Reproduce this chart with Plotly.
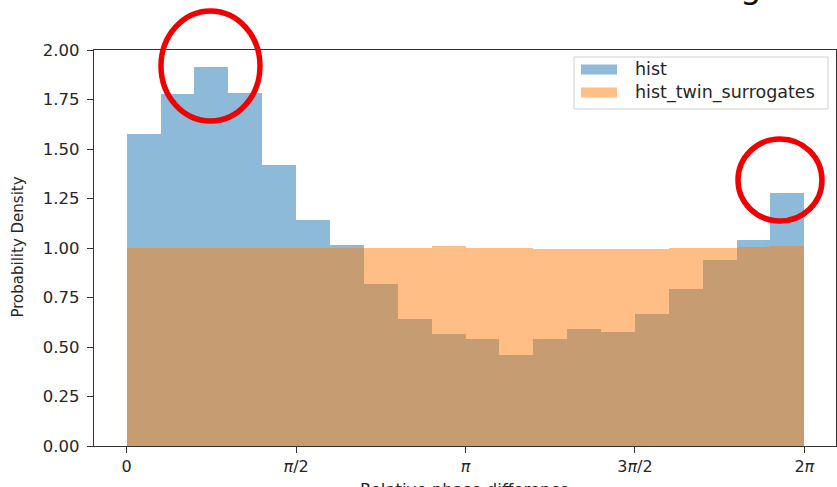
import numpy as np
import plotly.graph_objects as go

# ---- data ----
n_bins = 20
hist = [1.574, 1.777, 1.913, 1.782, 1.419, 1.141, 1.015, 0.816, 0.639, 0.565,
        0.538, 0.459, 0.538, 0.590, 0.576, 0.667, 0.791, 0.939, 1.040, 1.279]
hist_twin_surrogates = [1.000, 1.000, 1.000, 1.000, 1.000, 1.000, 0.999, 0.998, 0.998, 1.008,
                        0.999, 0.998, 0.997, 0.997, 0.997, 0.997, 0.998, 0.999, 1.005, 1.008]
x_tick_vals = [0, np.pi / 2, np.pi, 3 * np.pi / 2, 2 * np.pi]
x_tick_text = ["0", "<i>π</i>/2", "<i>π</i>", "3<i>π</i>/2", "2<i>π</i>"]
y_tick_vals = [0, 0.25, 0.5, 0.75, 1.0, 1.25, 1.5, 1.75, 2.0]
series_names = ["hist", "hist_twin_surrogates"]

# ---- layout geometry (pixels) ----
W, H = 837, 487
L, R, T, B = 94, 836, 50, 446


def px(x):
    return (x - L) / (R - L)


def py(y):
    return (B - y) / (B - T)


edges = np.linspace(0, 2 * np.pi, n_bins + 1)
centers = (edges[:-1] + edges[1:]) / 2
bw = edges[1] - edges[0]

C0 = "#1f77b4"
C1 = "#ff7f0e"
FONT = "DejaVu Sans"
TXT = "#262626"

fig = go.Figure()
fig.add_trace(go.Bar(x=centers, y=hist, width=bw, name=series_names[0],
                     marker=dict(color=C0, line=dict(width=0)), opacity=0.5))
fig.add_trace(go.Bar(x=centers, y=hist_twin_surrogates, width=bw, name=series_names[1],
                     marker=dict(color=C1, line=dict(width=0)), opacity=0.5))

pxr = (804.3 - 126.7) / (2 * np.pi)
xmin = -(126.7 - L) / pxr
xmax = (R - 126.7) / pxr

fig.update_layout(
    width=W, height=H,
    margin=dict(l=L, r=W - R, t=T, b=H - B, pad=0),
    paper_bgcolor="white", plot_bgcolor="white",
    barmode="overlay", bargap=0,
    showlegend=False,
    font=dict(family=FONT, size=16, color=TXT),
)
fig.update_xaxes(range=[xmin, xmax], tickvals=x_tick_vals, ticktext=x_tick_text,
                 showgrid=False, zeroline=False, showline=True, mirror=True,
                 linecolor="#333333", linewidth=1.2, ticks="outside", ticklen=6,
                 tickcolor="#333333", tickfont=dict(size=16, color=TXT))
fig.update_yaxes(range=[0, 2.0], tickvals=y_tick_vals, tickformat=".2f",
                 showgrid=False, zeroline=False, showline=True, mirror=True,
                 linecolor="#333333", linewidth=1.2, ticks="outside", ticklen=6,
                 tickcolor="#333333", tickfont=dict(size=16.5, color=TXT),
                 ticklabelstandoff=4)

# axis titles (as annotations to control placement)
fig.add_annotation(text="Probability Density", xref="paper", yref="paper",
                   x=px(17.5), y=py(247), textangle=-90, showarrow=False,
                   xanchor="center", yanchor="middle", font=dict(size=15, color=TXT))
fig.add_annotation(text="Relative phase difference", xref="paper", yref="paper",
                   x=px(465), y=py(477.5), showarrow=False,
                   xanchor="center", yanchor="top", font=dict(size=16.5, color=TXT))

# legend (drawn by hand to mimic the matplotlib look)
fig.add_shape(type="rect", xref="paper", yref="paper",
              x0=px(574), x1=px(828), y0=py(57), y1=py(109),
              line=dict(color="#d0d0d0", width=1), fillcolor="rgba(255,255,255,0.8)")
fig.add_shape(type="rect", xref="paper", yref="paper",
              x0=px(581), x1=px(617), y0=py(64.5), y1=py(74.5),
              line=dict(width=0), fillcolor=C0, opacity=0.5)
fig.add_shape(type="rect", xref="paper", yref="paper",
              x0=px(581), x1=px(617), y0=py(87.5), y1=py(97.5),
              line=dict(width=0), fillcolor=C1, opacity=0.5)
fig.add_annotation(text=series_names[0], xref="paper", yref="paper",
                   x=px(633), y=py(69.5), showarrow=False, xanchor="left",
                   yanchor="middle", font=dict(size=17.5, color=TXT))
fig.add_annotation(text=series_names[1], xref="paper", yref="paper",
                   x=px(633), y=py(92.5), showarrow=False, xanchor="left",
                   yanchor="middle", font=dict(size=17.5, color=TXT))

# red highlight circles
fig.add_shape(type="circle", xref="paper", yref="paper",
              x0=px(161), x1=px(260), y0=py(11), y1=py(121),
              line=dict(color="#f00000", width=5.5))
fig.add_shape(type="circle", xref="paper", yref="paper",
              x0=px(738), x1=px(822), y0=py(139), y1=py(221),
              line=dict(color="#f00000", width=5.5))

# cropped fragment of text at the top of the picture
fig.add_annotation(text="g", xref="paper", yref="paper",
                   x=px(751), y=py(8), showarrow=False, xanchor="center",
                   yanchor="bottom", font=dict(size=34, color="#111111"))

fig.write_html("out.html", config={"displayModeBar": False},
               post_script="document.body.style.margin='0';document.body.style.overflow='hidden';")
